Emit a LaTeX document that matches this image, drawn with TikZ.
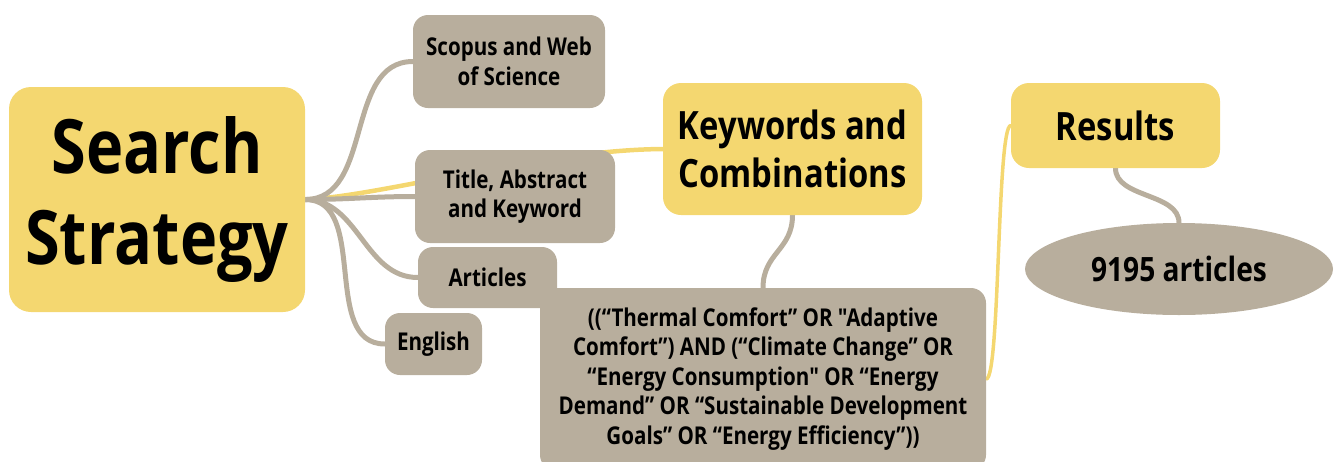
\documentclass[tikz,border=0pt]{standalone}
\usepackage{fontspec}
\setmainfont{Open Sans}[FakeStretch=0.84,Ligatures=TeXOff]
\usetikzlibrary{shapes.geometric,backgrounds}

\definecolor{mapyellow}{RGB}{244,215,112}
\definecolor{mapgrey}{RGB}{184,174,157}

\tikzset{
    topic/.style={fill=mapyellow, rounded corners=18pt, align=center, inner sep=0pt},
    leaf/.style={fill=mapgrey, rounded corners=15pt, align=center, inner sep=0pt,
        font=\bfseries\fontsize{24.5}{29.5}\selectfont},
    branch/.style={draw=mapgrey, line width=5pt, line cap=round},
    trunk/.style={draw=mapyellow, line width=4.5pt, line cap=round},
}

\begin{document}
\begin{tikzpicture}[x=1pt, y=-1pt]
    \useasboundingbox (0,0) rectangle (1334,461);

    % The main topics
    \node (S) [topic, rounded corners=22pt, minimum width=296pt, minimum height=225pt,
        font=\bfseries\fontsize{75}{91}\selectfont] at (157,199.5) {Search\\Strategy};
    \node (K) [topic, minimum width=259pt, minimum height=132pt,
        font=\bfseries\fontsize{39}{48}\selectfont] at (792.5,149) {Keywords and\\Combinations};
    \node (R) [topic, minimum width=209pt, minimum height=85pt,
        font=\bfseries\fontsize{39}{48}\selectfont] at (1115.5,125.5) {Results};

    % The leaves
    \node (W) [leaf, minimum width=192pt, minimum height=93pt] at (509,61.5) {Scopus and Web\\of Science};
    \node (T) [leaf, minimum width=200pt, minimum height=93pt] at (515,196.5) {Title, Abstract\\and Keyword};
    \node (A) [leaf, minimum width=139pt, minimum height=61pt] at (487.5,277.5) {Articles};
    \node (E) [leaf, minimum width=97pt, minimum height=62pt] at (433.5,344) {English};
    \node (Q) [leaf, minimum width=446pt, minimum height=182pt] at (763,379)
        {((“Thermal Comfort” OR "Adaptive\\
        Comfort”) AND (“Climate Change” OR\\
        “Energy Consumption" OR “Energy\\
        Demand” OR “Sustainable Development\\
        Goals” OR “Energy Efficiency”))};
    \node (N) [leaf, ellipse, minimum width=308pt, minimum height=92pt,
        font=\bfseries\fontsize{33.5}{40}\selectfont] at (1179,269) {9195 articles};

    \begin{scope}[on background layer]
        \draw[trunk] (S.east) .. controls +(75,-3) and +(-123,1) .. (K.west);
        \draw[trunk, line width=3.5pt] (Q.east) .. controls +(14,0) and +(-14,0) .. (R.west);
        \foreach \leafname in {W,T,A,E}
            \draw[branch] (S.east) to[out=0,in=180] (\leafname.west);
        \draw[branch] (K.south) .. controls +(0,35) and +(0,-35) .. (Q.north);
        \draw[branch] (R.south) .. controls +(0,30) and +(0,-30) .. (N.north);
    \end{scope}
\end{tikzpicture}
\end{document}
